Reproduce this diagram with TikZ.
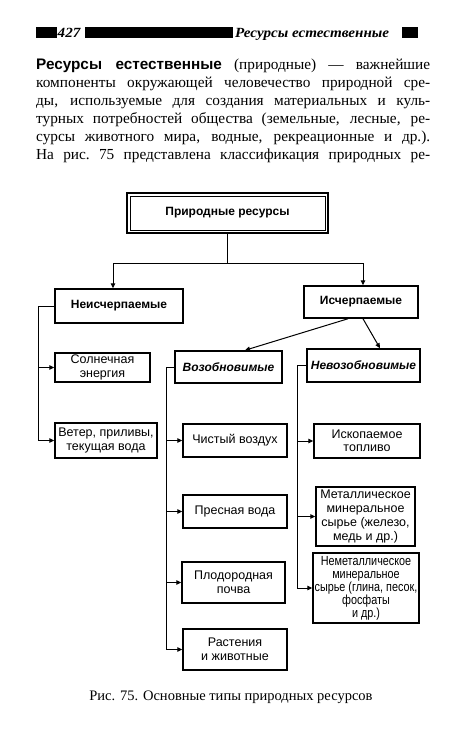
\documentclass[tikz,border=0pt]{standalone}
\usepackage{fontspec}
\setmainfont{Liberation Serif}
\setsansfont{Liberation Sans}
\newfontfamily\condsans[FakeStretch=0.82]{Liberation Sans}
\usetikzlibrary{arrows.meta}
\begin{document}
\begin{tikzpicture}[x=1pt,y=-1pt,
 box/.style={draw, line width=1.5pt, align=center, inner sep=0pt, font=\sffamily\fontsize{12.5}{13.5}\selectfont},
 hbox/.style={box, font=\sffamily\bfseries\fontsize{12}{14}\selectfont},
 ibox/.style={box, font=\sffamily\bfseries\itshape\fontsize{12}{14}\selectfont},
 conn/.style={line width=1pt},
 arr/.style={conn, -{Triangle[length=5pt,width=4.5pt]}},
 pline/.style={anchor=base west, inner sep=0pt, font=\fontsize{15.3}{18}\selectfont}
]
\fill[white] (0,0) rectangle (450,745);
\useasboundingbox (0,0) rectangle (450,745);

% header
\fill (36,27) rectangle (57,38);
\node[anchor=base west, inner sep=0pt, font=\bfseries\itshape\fontsize{14}{14}\selectfont] (pg) at (57.5,37) {\scalebox{1.08}[1]{427}};
\fill (85,27) rectangle (233,38);
\node[anchor=base west, inner sep=0pt, font=\bfseries\itshape\fontsize{14}{14}\selectfont] (ht) at (235,37) {\scalebox{1.08}[1]{Ресурсы естественные}};
\fill (402,27) rectangle (418,38);

% paragraph
\node[pline] (p1) at (36,69) {\makebox[394pt][s]{{\sffamily\bfseries Ресурсы естественные} (природные) — важнейшие}};
\node[pline] (p2) at (36,87.1) {\makebox[394pt][s]{компоненты окружающей человечество природной сре-}};
\node[pline] (p3) at (36,105.2) {\makebox[394pt][s]{ды, используемые для создания материальных и куль-}};
\node[pline] (p4) at (36,123.3) {\makebox[394pt][s]{турных потребностей общества (земельные, лесные, ре-}};
\node[pline] (p5) at (36,141.4) {\makebox[394pt][s]{сурсы животного мира, водные, рекреационные и др.).}};
\node[pline] (p6) at (36,159.5) {\makebox[394pt][s]{На рис.\ 75 представлена классификация природных ре-}};

% boxes
\node[hbox, line width=2.2pt, minimum width=201pt, minimum height=40pt] (top) at (227.5,213) {Природные ресурсы};
\draw[line width=0.8pt] ([shift={(4pt,-4pt)}]top.north west) rectangle ([shift={(-4pt,4pt)}]top.south east);

\node[hbox, minimum width=128pt, minimum height=34pt] (neis) at (119,306) {Неисчерпаемые};
\node[hbox, minimum width=114pt, minimum height=32pt] (isch) at (361,302) {Исчерпаемые};
\node[box, minimum width=95pt, minimum height=29pt] (sol) at (102.5,367.5) {Солнечная\\энергия};
\node[ibox, minimum width=107pt, minimum height=32pt] (voz) at (228.5,367) {Возобновимые};
\node[ibox, minimum width=113pt, minimum height=33pt] (nevoz) at (363.5,365.5) {Невозобновимые};
\node[box, minimum width=102pt, minimum height=35pt] (vet) at (106,440.5) {Ветер, приливы,\\текущая вода};
\node[box, minimum width=104pt, minimum height=33pt] (chist) at (235,440.5) {Чистый воздух};
\node[box, minimum width=106pt, minimum height=34pt] (isk) at (367,441) {Ископаемое\\топливо};
\node[box, minimum width=104pt, minimum height=33pt] (pres) at (235,511.5) {Пресная вода};
\node[box, minimum width=99pt, minimum height=59pt, font=\sffamily\fontsize{12.5}{14}\selectfont] (met) at (365.5,516.5) {Металлическое\\минеральное\\сырье (железо,\\медь и др.)};
\node[box, minimum width=103pt, minimum height=41pt] (plod) at (233.5,582.5) {Плодородная\\почва};
\node[box, minimum width=104pt, minimum height=41pt] (rast) at (235,649.5) {Растения\\и животные};
\node[box, minimum width=106pt, minimum height=70pt, font=\condsans\fontsize{13.2}{13}\selectfont] (nemet) at (366,588) {Неметаллическое\\минеральное\\сырье (глина, песок,\\фосфаты\\и др.)};

% connectors
\coordinate (j) at (227.5,263);
\draw[conn] (top.south) -- (j);
\draw[arr] (j) -| ([xshift=-6pt]neis.north);
\draw[arr] (j) -| ([xshift=2pt]isch.north);

\coordinate (lx) at (38,306);
\draw[arr] (neis.west) -- (lx) |- (vet.west);
\draw[arr] (lx |- sol.west) -- (sol.west);

\draw[arr] ([xshift=-13pt]isch.south) -- ([xshift=16.5pt]voz.north);
\draw[arr] ([xshift=2pt]isch.south) -- ([xshift=16.5pt]nevoz.north);

\coordinate (vx) at (166,367);
\draw[arr] (voz.west) -- (vx) |- (rast.west);
\draw[arr] (vx |- chist.west) -- (chist.west);
\draw[arr] (vx |- pres.west) -- (pres.west);
\draw[arr] (vx |- plod.west) -- (plod.west);

\coordinate (nx) at (297,365.5);
\draw[arr] (nevoz.west) -- (nx) |- (nemet.west);
\draw[arr] (nx |- isk.west) -- (isk.west);
\draw[arr] (nx |- met.west) -- (met.west);

% caption
\node[inner sep=0pt, font=\fontsize{14.5}{15}\selectfont] (cap) at (231,697) {Рис. 75. Основные типы природных ресурсов};
\end{tikzpicture}
\end{document}
